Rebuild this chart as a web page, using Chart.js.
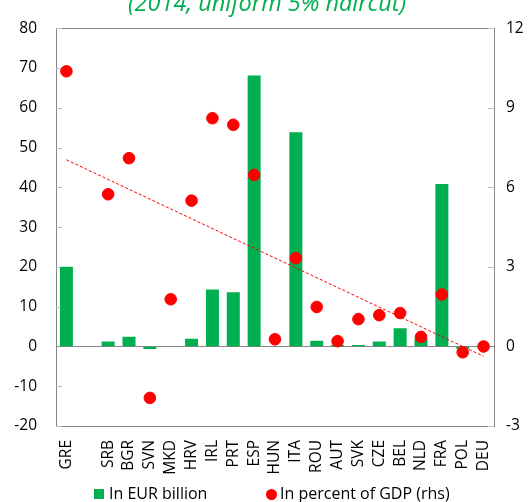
<!DOCTYPE html>
<html>
<head>
<meta charset="utf-8">
<script src="https://cdn.jsdelivr.net/npm/chart.js@4.4.1/dist/chart.umd.min.js"></script>
<style>
  html, body { margin: 0; padding: 0; background: #fff; overflow: hidden; }
  #wrap { position: relative; width: 530px; height: 502px; overflow: hidden; }
  #title { position: absolute; left: 0; width: 534px; top: -9.5px; text-align: center;
           font-family: "Open Sans", sans-serif; font-style: italic; font-size: 23.5px;
           line-height: 23.5px; color: #00B050; white-space: nowrap; }
  canvas { position: absolute; left: 0; top: 0; }
  .leg { position: absolute; font-family: "Open Sans", sans-serif; font-size: 16px; line-height: 16px; color: #000; white-space: nowrap; }
  .sw { position: absolute; }
</style>
</head>
<body>
<div id="wrap">
  <canvas id="c" width="530" height="502"></canvas>
  <div id="title">(2014, uniform 5% haircut)</div>
  <div class="sw" style="left:94px;top:489px;width:10px;height:10px;background:#00B050;"></div>
  <div class="leg" style="left:109px;top:485px;" id="leg1"></div>
  <div class="sw" style="left:266px;top:488.5px;width:11px;height:11px;border-radius:50%;background:#FF0000;"></div>
  <div class="leg" style="left:280px;top:485px;" id="leg2"></div>
</div>
<script>
const categories = ['GRE','','SRB','BGR','SVN','MKD','HRV','IRL','PRT','ESP','HUN','ITA','ROU','AUT','SVK','CZE','BEL','NLD','FRA','POL','DEU'];
const eurBillion = [20.3, null, 1.5, 2.7, -0.9, null, 2.2, 14.6, 13.9, 68.4, null, 54.1, 1.7, 0.6, 0.6, 1.5, 4.8, 2.2, 41.1, -0.8, null];
const pctGDP = [10.38, null, 5.74, 7.1, -1.94, 1.78, 5.5, 8.61, 8.36, 6.47, 0.27, 3.33, 1.49, 0.2, 1.03, 1.18, 1.26, 0.36, 1.96, -0.22, 0.0];
const trendStart = 7.04;
const trendEnd = -0.37;
const leftTicks = [-20, -10, 0, 10, 20, 30, 40, 50, 60, 70, 80];
const rightTicks = [-3, 0, 3, 6, 9, 12];
const seriesNames = ['In EUR billion', 'In percent of GDP (rhs)'];

document.getElementById('leg1').textContent = seriesNames[0];
document.getElementById('leg2').textContent = seriesNames[1];

const trendData = categories.map((c, i) => i === 0 ? trendStart : (i === categories.length - 1 ? trendEnd : null));

const FONT = "'Open Sans', sans-serif";
const TICKFONT = { family: FONT, size: 15.5 };

const framePlugin = {
  id: 'frame',
  beforeDatasetsDraw(chart) {
    const { ctx, chartArea: a, scales } = chart;
    ctx.save();
    ctx.strokeStyle = '#868686';
    ctx.lineWidth = 1;
    ctx.strokeRect(Math.round(a.left) + 0.5, Math.round(a.top) + 0.5, Math.round(a.right - a.left), Math.round(a.bottom - a.top));
    ctx.strokeStyle = '#bfbfbf';
    leftTicks.forEach(v => {
      const y = Math.round(scales.y.getPixelForValue(v)) + 0.5;
      ctx.beginPath(); ctx.moveTo(a.left, y); ctx.lineTo(a.left + 6, y); ctx.stroke();
    });
    rightTicks.forEach(v => {
      const y = Math.round(scales.y1.getPixelForValue(v)) + 0.5;
      ctx.beginPath(); ctx.moveTo(a.right - 6, y); ctx.lineTo(a.right, y); ctx.stroke();
    });
    ctx.strokeStyle = '#868686';
    const y0 = Math.round(scales.y.getPixelForValue(0)) + 0.5;
    ctx.beginPath(); ctx.moveTo(a.left, y0); ctx.lineTo(a.right, y0); ctx.stroke();
    ctx.restore();
  }
};

new Chart(document.getElementById('c'), {
  type: 'bar',
  data: {
    labels: categories,
    datasets: [
      {
        type: 'line',
        label: seriesNames[1],
        data: pctGDP,
        yAxisID: 'y1',
        showLine: false,
        pointRadius: 5.8,
        pointHoverRadius: 5.8,
        pointBackgroundColor: '#FF0000',
        pointBorderColor: '#FF0000',
        backgroundColor: '#FF0000',
        borderColor: '#FF0000',
        order: 0
      },
      {
        type: 'line',
        label: 'trend',
        data: trendData,
        yAxisID: 'y1',
        spanGaps: true,
        borderColor: '#FF0000',
        borderWidth: 1,
        borderDash: [3, 2],
        pointRadius: 0,
        fill: false,
        order: 1
      },
      {
        type: 'bar',
        label: seriesNames[0],
        data: eurBillion,
        yAxisID: 'y',
        backgroundColor: '#00B050',
        borderColor: 'rgba(255,255,255,0.6)',
        borderWidth: 1,
        categoryPercentage: 0.72,
        barPercentage: 1,
        order: 2
      }
    ]
  },
  options: {
    responsive: false,
    animation: false,
    layout: { padding: { top: 23, left: 0, right: 0, bottom: 0 } },
    plugins: {
      tooltip: { enabled: false },
      legend: { display: false }
    },
    scales: {
      x: {
        grid: { display: false, drawTicks: false },
        border: { display: false },
        ticks: { minRotation: 90, maxRotation: 90, autoSkip: false, padding: 14, color: '#000', font: TICKFONT },
        afterFit: s => { s.height = 76; }
      },
      y: {
        position: 'left',
        min: -20, max: 80,
        grid: { display: false, drawTicks: false },
        border: { display: false },
        ticks: { stepSize: 10, padding: 19, color: '#000', font: TICKFONT },
        afterFit: s => { s.width = 56; }
      },
      y1: {
        position: 'right',
        min: -3, max: 12,
        grid: { display: false, drawTicks: false },
        border: { display: false },
        ticks: { stepSize: 3, padding: 12, color: '#000', font: TICKFONT },
        afterFit: s => { s.width = 36; }
      }
    }
  },
  plugins: [framePlugin]
});
</script>
</body>
</html>
